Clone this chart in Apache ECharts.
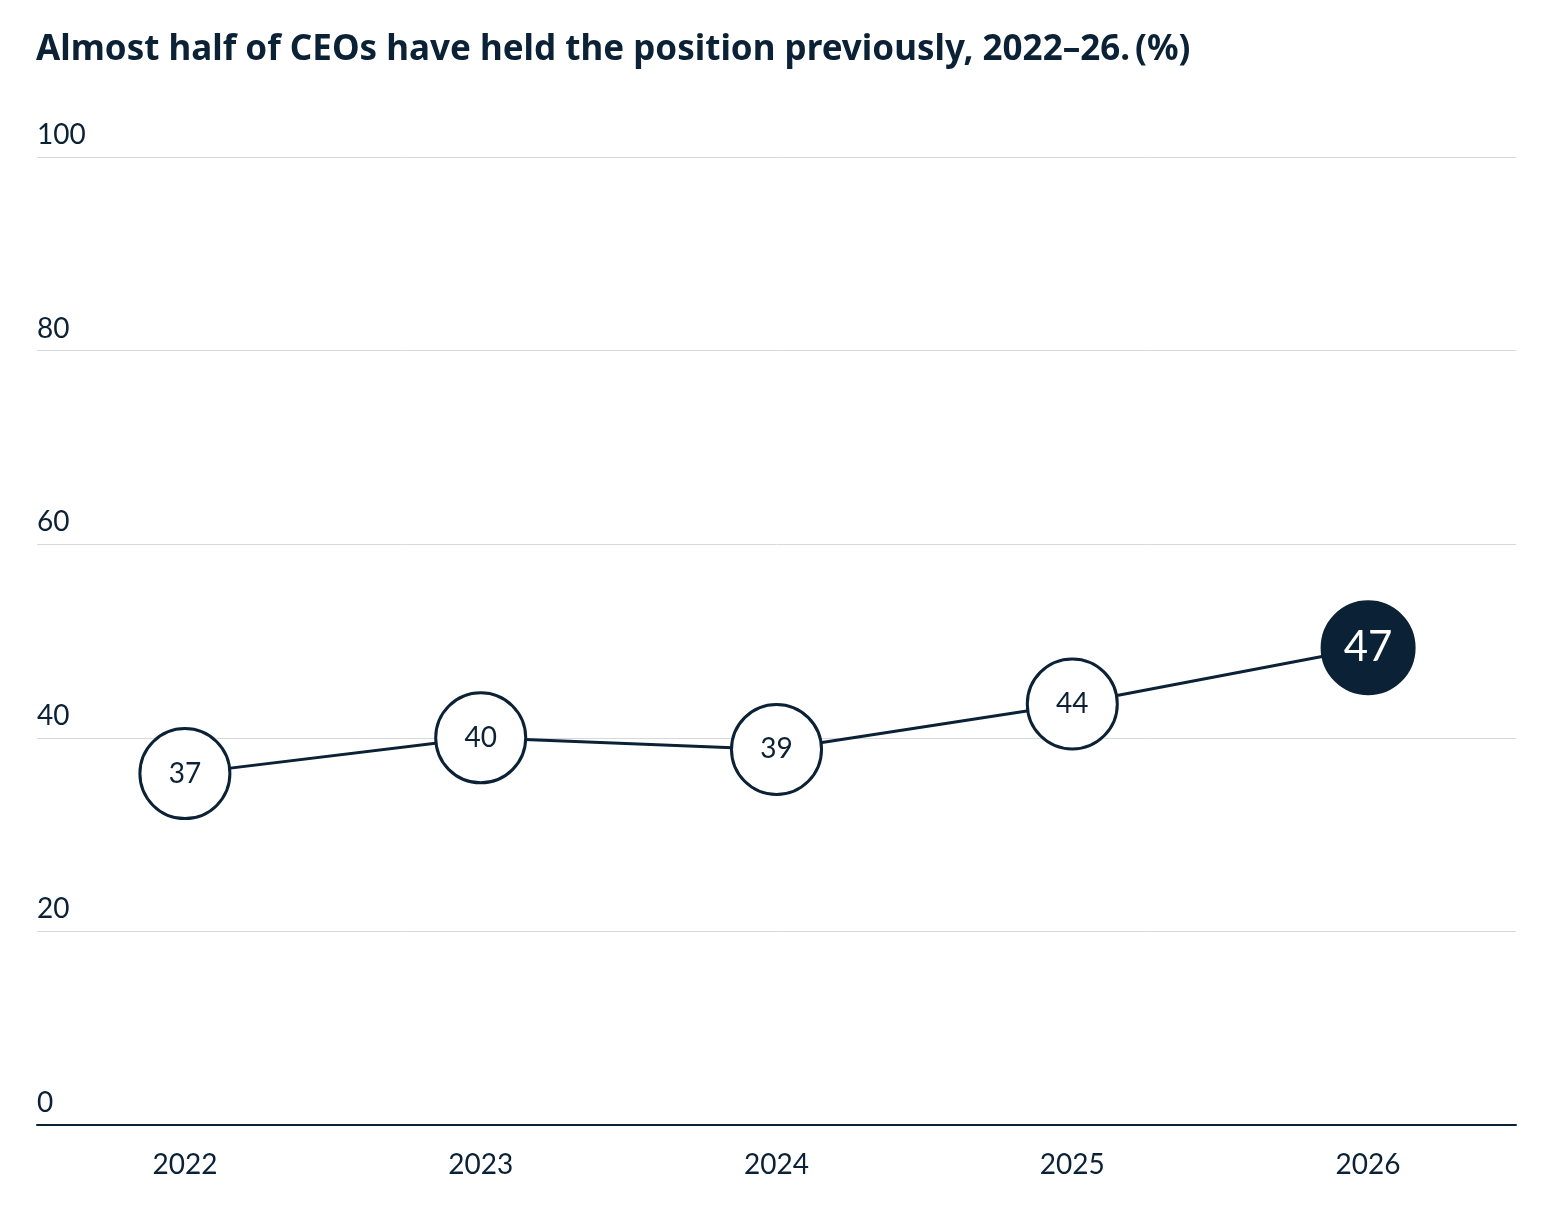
<!DOCTYPE html>
<html><head><meta charset="utf-8">
<script src="https://cdn.jsdelivr.net/npm/echarts@6/dist/echarts.min.js"></script>
<style>html,body{margin:0;background:#fff}#c{width:1546px;height:1226px}</style>
</head><body><div id="c"></div>
<script>
const categories = ['2022','2023','2024','2025','2026'];
const values = [36.3, 40.0, 38.8, 43.5, 49.3];
const labels = ['37','40','39','44','47'];
const yTicks = [0,20,40,60,80,100];
const ink = '#0b2135';
const chart = echarts.init(document.getElementById('c'));
chart.setOption({
  backgroundColor:'#fff',
  title:{left:31,top:28,text:'{b|Almost half of CEOs have held the position previously, 2022–26.} {n|(%)}',
    textStyle:{rich:{b:{fontFamily:'Noto Sans',fontWeight:'bold',fontSize:35,color:ink},n:{fontFamily:'Noto Sans',fontSize:35,color:ink}}}},
  grid:{left:37,right:30,top:157,bottom:101},
  xAxis:{type:'category',data:categories,boundaryGap:true,
    axisLine:{lineStyle:{color:ink,width:2}},axisTick:{show:false},
    axisLabel:{fontFamily:'Lato',fontSize:28,color:ink,margin:26}},
  yAxis:{type:'value',min:0,max:100,interval:20,
    axisLine:{show:false},axisTick:{show:false},
    splitLine:{lineStyle:{color:'#d6d9dc',width:1}},
    axisLabel:{inside:true,fontFamily:'Lato',fontSize:28,color:ink,verticalAlign:'bottom',margin:0,padding:[0,0,8,0],
      formatter:v=>yTicks.includes(v)?String(v):''}},
  series:[{type:'line',data:values.map((v,i)=>({value:v,
      symbolSize: i===4?92:90,
      itemStyle: i===4?{color:ink,borderColor:ink,borderWidth:3}:{color:'#fff',borderColor:ink,borderWidth:3},
      label:{show:true,position:'inside',formatter:labels[i],fontFamily:'Lato',
        fontSize:i===4?42:28,color:i===4?'#fff':ink}})),
    symbol:'circle',lineStyle:{color:ink,width:3},z:3}]
});
</script></body></html>
